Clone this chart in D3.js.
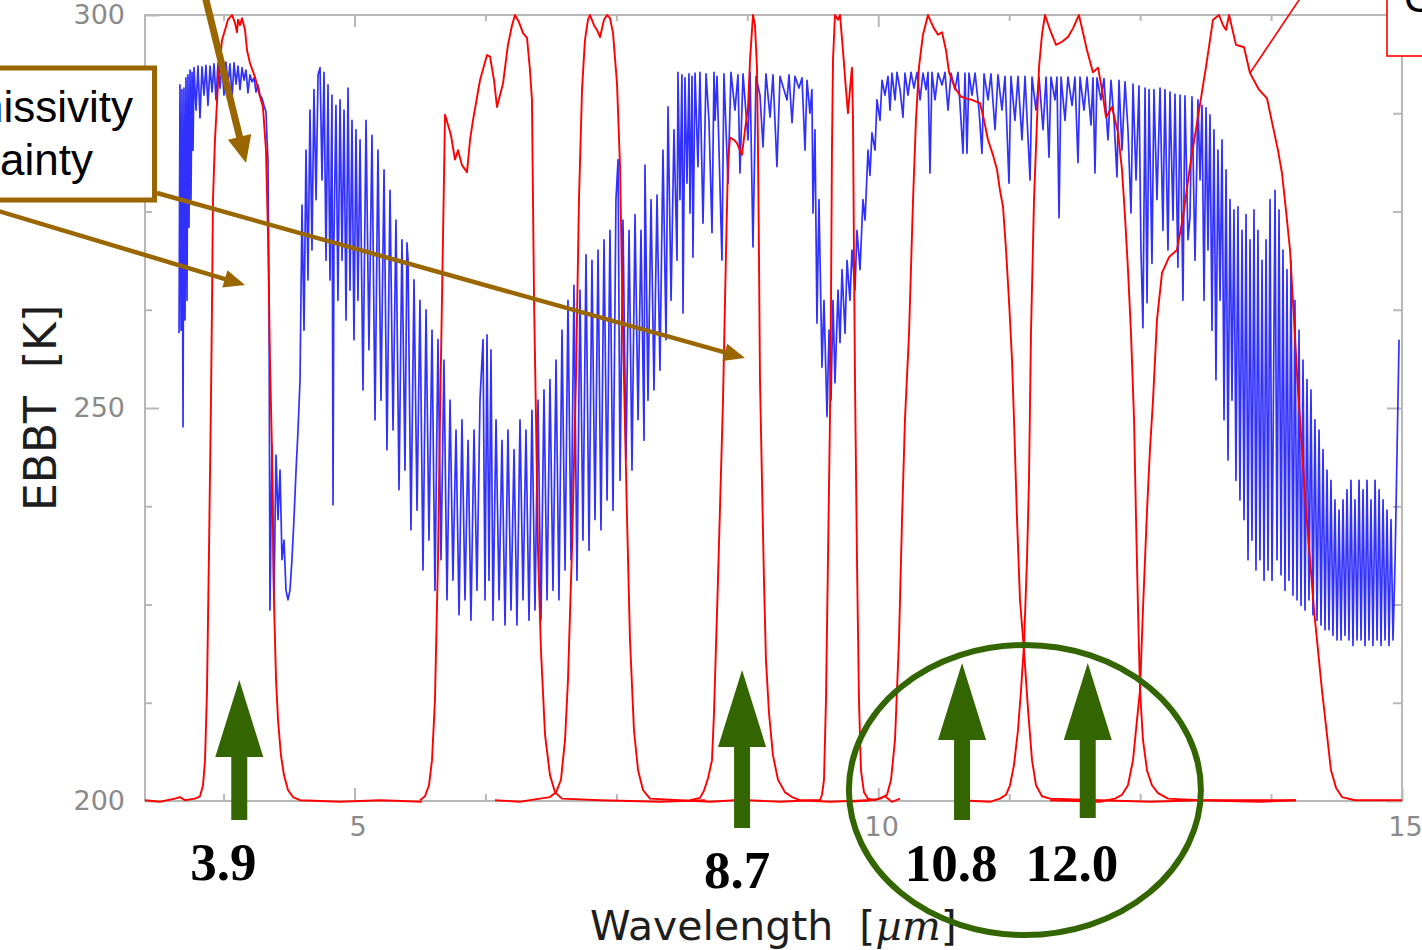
<!DOCTYPE html>
<html>
<head>
<meta charset="utf-8">
<script src="https://cdn.jsdelivr.net/npm/d3@7"></script>
<style>
  html, body { margin: 0; padding: 0; background: #ffffff; overflow: hidden; }
  svg { display: block; }
  .pre { white-space: pre; }
</style>
</head>
<body>
<svg id="chart" width="1422" height="950"></svg>
<script>
// ---- axes ----------------------------------------------------------------
const xDomain = [3, 15];                 // wavelength, µm
const yDomain = [200, 300];              // EBBT, K
const xMajorTicks = [5, 10, 15];
const xMinorTicks = [3.75, 6.25, 7.5, 8.75, 11.25, 12.5, 13.75];
const yMajorTicks = [200, 250, 300];
const yMinorTicks = [212.5, 225, 237.5, 262.5, 275, 287.5];

// ---- simulated equivalent black-body temperature spectrum [µm, K] ---------
const ebbtSpectrum = [
  [3.325,259.5],[3.334,291.1],[3.344,259.9],[3.353,290.5],[3.363,247.6],[3.372,290.7],[3.382,261.2],[3.391,292.0],
  [3.401,263.7],[3.410,292.4],[3.420,273.0],[3.430,293.0],[3.439,276.5],[3.449,292.7],[3.458,282.8],[3.468,293.3],
  [3.487,287.9],[3.506,293.5],[3.525,286.9],[3.544,293.4],[3.563,289.8],[3.582,293.6],[3.601,288.5],[3.621,293.5],
  [3.640,290.2],[3.659,293.8],[3.678,289.2],[3.697,293.9],[3.716,290.7],[3.735,293.6],[3.754,289.8],[3.773,294.0],
  [3.792,291.1],[3.811,293.8],[3.831,289.4],[3.850,293.9],[3.869,291.2],[3.888,293.5],[3.907,290.5],[3.926,293.3],
  [3.945,291.7],[3.964,293.0],[3.983,290.1],[4.002,292.4],[4.021,291.5],[4.041,292.0],[4.060,290.2],[4.079,291.1],
  [4.098,289.8],[4.117,289.4],[4.136,288.5],[4.155,287.7],[4.165,284.1],[4.174,281.6],[4.184,263.7],[4.193,224.3],
  [4.212,245.3],[4.231,225.6],[4.251,244.0],[4.270,235.8],[4.289,242.1],[4.308,230.7],[4.327,233.2],[4.346,226.8],
  [4.365,225.6],[4.384,226.8],[4.403,230.7],[4.422,235.8],[4.442,242.1],[4.461,247.2],[4.480,253.6],
  [4.499,275.8],[4.518,259.9],[4.537,282.8],[4.556,266.3],[4.575,287.9],[4.594,270.1],[4.613,290.5],[4.633,276.5],
  [4.652,292.4],[4.671,293.3],[4.690,279.0],[4.709,292.7],[4.728,268.8],[4.747,291.1],[4.766,266.3],[4.785,289.8],
  [4.795,237.7],[4.804,271.4],[4.823,288.5],[4.842,263.7],[4.862,289.2],[4.881,268.8],[4.900,287.9],[4.919,261.2],
  [4.938,290.7],[4.957,265.0],[4.976,286.6],[4.995,258.7],[5.014,285.4],[5.033,263.7],[5.053,284.1],
  [5.081,252.3],[5.110,286.6],[5.138,257.4],[5.167,284.7],[5.196,248.5],[5.224,282.8],[5.253,251.0],[5.282,280.3],
  [5.310,244.7],[5.339,277.7],[5.368,247.2],[5.396,273.9],[5.425,239.6],[5.453,271.4],[5.482,242.1],[5.501,271.0],
  [5.511,268.8],[5.539,234.5],[5.568,266.3],[5.597,237.0],[5.625,263.7],[5.654,229.4],[5.683,262.5],[5.711,233.2],
  [5.740,259.9],[5.768,226.8],[5.797,258.7],[5.826,230.7],
  [5.854,256.1],[5.883,225.6],[5.912,251.0],[5.940,228.1],[5.969,247.2],[5.998,223.7],[6.026,248.5],[6.055,225.6],
  [6.084,245.9],[6.112,223.0],[6.141,247.2],[6.169,226.8],[6.198,251.0],[6.227,258.7],[6.246,225.6],[6.265,259.3],
  [6.284,228.1],[6.303,257.4],[6.322,223.0],[6.351,248.5],[6.380,225.6],[6.408,245.9],[6.437,222.4],[6.465,247.2],
  [6.494,224.3],[6.523,244.7],[6.551,222.4],[6.580,248.5],[6.609,225.6],[6.637,247.2],[6.666,223.0],[6.694,249.7],
  [6.723,224.3],[6.752,251.0],[6.780,223.0],[6.809,252.3],[6.838,225.6],[6.866,253.6],[6.895,226.8],[6.924,256.1],
  [6.952,225.6],[6.981,259.9],[7.010,229.4],[7.038,263.7],[7.067,230.7],[7.095,265.6],[7.124,228.1],[7.153,265.0],
  [7.181,233.2],[7.210,269.5],[7.239,231.9],[7.267,268.8],[7.296,235.8],[7.325,270.1],[7.353,234.5],[7.382,271.4],
  [7.411,238.3],[7.439,272.6],[7.468,237.0],[7.496,276.5],[7.516,281.6],[7.535,240.8],[7.563,273.9],[7.592,243.4],
  [7.621,272.6],[7.649,242.1],[7.678,274.6],[7.707,248.5],[7.735,272.6],[7.764,245.9],[7.773,280.9],[7.802,251.0],
  [7.831,276.5],[7.859,252.3],[7.888,277.1],[7.916,254.8],[7.945,282.8],[7.974,258.7],[7.993,288.3],[8.022,263.7],
  [8.050,285.4],[8.079,268.8],[8.088,292.7],
  [8.107,276.5],[8.126,292.4],[8.136,262.1],[8.155,292.0],[8.174,278.6],[8.193,292.5],[8.203,274.8],[8.222,292.2],
  [8.231,269.2],[8.251,292.6],[8.279,280.7],[8.298,292.7],[8.327,273.5],[8.356,292.5],[8.384,286.6],[8.413,272.3],
  [8.432,292.7],[8.442,286.6],[8.461,292.2],[8.508,268.8],[8.527,292.5],[8.566,278.6],[8.594,292.7],[8.632,287.9],
  [8.661,292.4],[8.680,279.9],[8.709,292.5],[8.757,284.1],[8.776,292.7],[8.804,270.5],[8.833,292.2],[8.871,289.8],
  [8.900,283.2],[8.928,292.5],[8.967,287.0],[8.995,292.4],[9.033,280.7],[9.062,292.2],[9.100,290.5],[9.129,289.2],
  [9.148,292.4],[9.177,286.3],[9.205,292.2],[9.243,290.7],[9.272,292.0],[9.301,282.8],[9.320,291.7],[9.348,287.5],
  [9.367,290.5],[9.377,274.8],[9.396,285.4],[9.415,260.8],[9.434,276.5],[9.463,255.2],[9.482,263.7],[9.511,248.9],
  [9.530,259.9],[9.549,251.0],[9.568,263.7],[9.587,253.2],[9.616,265.0],[9.635,258.3],[9.654,267.6],[9.683,259.5],
  [9.702,268.8],[9.730,263.7],[9.749,270.1],[9.778,265.0],[9.797,272.6],[9.826,267.6],[9.854,276.5],[9.874,273.9],
  [9.902,282.8],[9.921,279.6],[9.940,285.0],[9.969,282.8],[9.988,289.2],[10.017,286.6],[10.036,291.7],[10.064,289.8],
  [10.093,292.2],
  [10.112,287.9],[10.131,292.6],[10.160,289.2],[10.179,292.7],[10.208,290.5],[10.236,287.0],[10.255,292.6],[10.284,289.8],
  [10.313,292.7],[10.341,290.7],[10.370,292.7],[10.399,289.2],[10.427,292.6],[10.456,290.5],[10.475,292.7],[10.494,279.9],
  [10.513,292.7],[10.542,289.2],[10.571,292.6],[10.609,291.1],[10.637,292.7],[10.666,287.9],[10.695,292.6],[10.733,290.5],
  [10.761,292.7],[10.790,286.6],[10.809,282.4],[10.828,292.6],[10.847,282.4],[10.866,292.6],[10.895,289.8],[10.924,292.6],
  [10.962,287.9],[10.990,282.4],[11.010,292.5],[11.048,289.2],[11.076,292.5],[11.115,285.4],[11.143,292.4],[11.181,287.9],
  [11.210,292.2],[11.248,278.6],[11.267,292.2],[11.305,286.6],[11.334,292.2],[11.372,284.1],[11.401,292.2],[11.449,279.0],
  [11.468,292.1],[11.506,287.9],[11.535,292.1],[11.573,285.4],[11.602,292.1],[11.630,281.9],[11.649,292.1],[11.687,289.2],
  [11.706,292.1],[11.726,274.2],[11.745,292.1],[11.783,286.6],[11.811,292.1],[11.850,288.5],[11.878,292.1],[11.907,281.2],
  [11.926,292.1],[11.964,287.9],[11.993,292.1],[12.031,286.0],[12.050,292.0],[12.069,279.9],[12.088,292.0],[12.126,289.2],
  [12.155,291.9],[12.193,284.1],[12.222,291.7],[12.251,286.6],[12.279,279.4],[12.298,291.7],[12.327,282.8],[12.356,291.5],
  [12.384,285.4],[12.413,274.8],[12.432,291.2],[12.461,279.0],[12.489,291.0],[12.508,270.1],[12.527,260.2],[12.547,290.7],
  [12.566,263.4],[12.585,290.5],[12.613,268.4],[12.632,290.5],[12.661,276.5],[12.690,290.7],[12.718,272.6],[12.737,290.5],
  [12.766,270.1],[12.785,290.2],[12.814,273.9],[12.833,289.9],[12.861,267.9],[12.881,289.8],[12.909,263.7],[12.928,289.7],
  [12.957,271.4],[12.976,274.3],[12.995,289.6],[13.024,268.8],[13.052,289.2],[13.072,279.0],
  [13.091,288.5],[13.110,263.7],[13.129,288.2],[13.148,270.1],[13.167,287.3],[13.186,259.9],[13.205,285.4],[13.224,253.6],
  [13.243,282.8],[13.263,263.7],[13.282,284.1],[13.301,248.5],[13.320,280.3],[13.339,243.4],[13.358,276.5],[13.377,251.0],
  [13.396,275.2],[13.415,240.8],[13.434,275.6],[13.453,238.3],[13.473,272.6],[13.492,235.8],[13.511,274.6],[13.530,230.7],
  [13.549,271.4],[13.568,233.2],[13.587,275.2],[13.606,229.4],[13.625,272.6],[13.644,230.7],[13.664,268.8],[13.683,228.1],
  [13.702,271.4],[13.721,229.4],[13.740,276.5],[13.759,228.1],[13.788,277.7],[13.807,230.7],[13.826,275.2],[13.845,228.8],
  [13.864,270.1],[13.883,226.8],[13.902,267.6],[13.921,228.1],[13.940,268.8],[13.959,226.2],[13.978,263.7],[13.998,225.6],
  [14.017,259.9],[14.036,224.9],[14.055,256.1],[14.074,224.3],[14.093,253.6],[14.112,225.6],[14.131,252.3],[14.150,223.7],
  [14.169,248.5],[14.189,223.0],[14.208,247.2],[14.227,222.4],[14.246,244.7],[14.265,221.8],[14.284,242.1],[14.303,221.8],
  [14.322,240.8],[14.341,221.1],[14.360,238.3],[14.380,220.5],[14.399,237.0],[14.418,220.5],[14.437,238.3],[14.456,221.1],
  [14.475,239.6],[14.494,220.5],[14.513,240.8],[14.532,219.8],[14.551,238.3],[14.571,220.5],[14.590,240.8],[14.609,220.5],
  [14.628,239.6],[14.647,219.8],[14.666,240.8],[14.685,220.5],[14.704,238.3],[14.723,219.8],[14.743,240.8],[14.762,220.5],
  [14.781,239.6],[14.800,219.8],[14.819,238.3],[14.838,220.5],[14.857,237.0],[14.876,219.8],[14.895,235.8],[14.914,220.5],
  [14.934,230.7],[14.953,244.7],[14.972,258.7]
];

// ---- channel spectral response functions, scaled onto the 200–300 K range ----
const srf39 = [
  [3.000,200.1],[3.143,199.9],[3.286,200.3],[3.334,200.5],[3.382,200.1],[3.477,200.3],[3.525,200.6],[3.554,202.0],
  [3.573,205.2],[3.592,214.1],[3.611,231.9],[3.630,251.0],[3.640,263.7],[3.649,276.5],[3.668,284.1],[3.697,291.3],
  [3.735,296.8],[3.764,298.1],[3.792,299.4],[3.831,300.0],[3.859,299.0],[3.878,297.8],[3.888,299.4],[3.907,298.7],
  [3.926,299.6],[3.955,298.1],[3.974,295.5],[4.002,293.9],[4.050,292.1],[4.098,289.6],[4.126,288.3],[4.155,282.8],
  [4.174,272.3],[4.193,256.1],[4.212,244.7],[4.231,225.6],[4.251,215.4],[4.270,210.3],[4.298,205.8],[4.327,203.3],
  [4.365,201.4],[4.413,200.5],[4.480,200.1],[4.862,199.9],[5.243,200.1],[5.644,199.9]
];
const srf62 = [
  [5.625,200.1],[5.673,200.6],[5.711,202.0],[5.740,205.2],[5.768,212.8],[5.797,230.7],[5.816,248.5],[5.835,263.7],
  [5.854,279.0],[5.864,287.3],[5.893,286.0],[5.921,284.7],[5.959,281.6],[5.988,282.8],[6.026,280.9],[6.074,280.0],
  [6.103,284.1],[6.131,286.6],[6.198,291.7],[6.265,294.9],[6.294,294.7],[6.332,291.7],[6.360,288.3],[6.389,289.8],
  [6.418,291.3],[6.465,296.2],[6.504,298.7],[6.532,300.0],[6.570,299.1],[6.609,297.7],[6.647,297.1],[6.675,293.0],
  [6.694,289.2],[6.704,276.5],[6.714,263.7],[6.733,248.5],[6.752,231.9],[6.780,219.2],[6.819,208.4],[6.866,203.3],
  [6.914,201.1],[6.981,200.3],[7.344,200.1],[7.916,199.9],[8.346,200.1]
];
const srf73 = [
  [6.341,200.1],[6.580,199.9],[6.771,200.3],[6.866,200.5],[6.924,201.1],[6.971,202.7],[7.010,207.8],[7.038,215.4],
  [7.076,231.9],[7.114,253.6],[7.143,276.5],[7.172,290.5],[7.200,296.8],[7.229,299.4],[7.248,300.0],[7.286,298.7],
  [7.315,298.1],[7.344,297.2],[7.382,299.4],[7.411,300.0],[7.439,299.6],[7.468,297.7],[7.506,291.3],[7.535,280.7],
  [7.554,266.3],[7.573,253.6],[7.602,235.8],[7.630,220.5],[7.668,209.0],[7.707,203.9],[7.754,201.4],[7.821,200.3],
  [8.107,200.1],[8.394,199.9],[8.632,200.1]
];
const srf87 = [
  [8.203,200.1],[8.298,200.4],[8.336,201.3],[8.375,202.9],[8.413,205.2],[8.432,211.2],[8.470,228.1],[8.518,251.0],
  [8.547,270.1],[8.566,281.6],[8.585,284.4],[8.623,284.1],[8.651,283.7],[8.699,282.2],[8.728,285.4],[8.757,288.3],
  [8.776,294.3],[8.804,300.0],[8.823,298.7],[8.842,293.4],[8.852,282.8],[8.861,270.1],[8.871,253.6],[8.890,240.8],
  [8.909,228.1],[8.928,217.9],[8.957,211.2],[8.995,205.8],[9.043,202.7],[9.110,201.1],[9.177,200.5],[9.253,200.1],
  [9.539,199.9],[9.921,200.1]
];
const srf97 = [
  [8.757,200.1],[9.062,199.9],[9.348,200.1],[9.444,200.1],[9.463,200.8],[9.482,202.7],[9.501,212.8],[9.520,230.7],
  [9.539,248.5],[9.549,263.7],[9.558,282.8],[9.568,294.3],[9.587,300.0],[9.616,299.4],[9.635,300.0],[9.663,295.5],
  [9.692,290.5],[9.711,287.5],[9.730,290.5],[9.749,293.3],[9.759,286.6],[9.768,270.1],[9.778,253.6],[9.797,230.7],
  [9.816,212.8],[9.835,203.9],[9.864,201.1],[9.902,200.3],[9.969,200.1],[10.064,200.6],[10.131,199.9],[10.208,200.3]
];
const srf108 = [
  [9.730,199.9],[9.921,200.1],[10.017,200.3],[10.084,200.8],[10.122,202.7],[10.160,207.8],[10.198,220.5],[10.227,235.8],
  [10.255,248.5],[10.294,259.5],[10.332,276.5],[10.360,286.6],[10.389,293.4],[10.427,297.5],[10.475,300.0],[10.504,299.1],
  [10.532,298.3],[10.571,297.5],[10.609,297.8],[10.647,295.5],[10.676,292.7],[10.733,290.7],[10.790,289.6],[10.838,289.4],
  [10.895,289.2],[10.971,288.8],[11.010,286.6],[11.048,284.1],[11.095,282.2],[11.134,280.3],[11.162,277.7],[11.191,275.6],
  [11.220,270.1],[11.248,263.7],[11.277,256.1],[11.296,248.5],[11.325,235.8],[11.353,225.6],[11.391,219.2],[11.430,211.6],
  [11.468,205.2],[11.506,202.0],[11.563,200.6],[11.640,200.3],[12.117,200.1],[12.594,199.9],[13.072,200.1],[13.988,200.1]
];
const srf120 = [
  [10.780,200.1],[11.067,199.9],[11.162,200.3],[11.220,200.8],[11.258,202.0],[11.296,204.6],[11.334,209.0],[11.363,214.1],
  [11.391,219.8],[11.420,230.7],[11.439,240.8],[11.458,259.5],[11.487,276.5],[11.535,293.4],[11.563,297.5],[11.592,300.0],
  [11.640,298.1],[11.697,296.2],[11.754,296.6],[11.811,297.2],[11.859,298.3],[11.916,300.0],[11.954,297.8],[11.993,295.5],
  [12.050,292.7],[12.098,293.3],[12.136,290.5],[12.174,287.0],[12.232,288.3],[12.289,285.0],[12.327,280.3],[12.356,274.3],
  [12.384,267.6],[12.413,259.5],[12.442,248.5],[12.461,235.8],[12.480,224.3],[12.499,214.1],[12.527,207.8],[12.566,203.9],
  [12.613,202.0],[12.671,201.0],[12.766,200.3],[13.072,200.1],[13.644,199.9],[13.988,200.1]
];
const srf134 = [
  [11.640,200.1],[12.117,199.9],[12.260,200.3],[12.327,200.8],[12.384,202.0],[12.432,205.2],[12.470,210.3],[12.499,214.1],
  [12.527,224.3],[12.566,237.0],[12.594,244.7],[12.623,251.0],[12.661,261.2],[12.709,267.2],[12.776,269.2],[12.852,270.1],
  [12.909,274.3],[12.976,280.7],[13.052,287.0],[13.129,293.4],[13.196,299.4],[13.253,300.0],[13.291,298.7],[13.320,298.1],
  [13.349,300.0],[13.415,296.2],[13.492,295.9],[13.549,292.6],[13.635,290.5],[13.711,289.4],[13.768,285.8],[13.816,282.8],
  [13.854,279.9],[13.892,275.2],[13.931,270.1],[13.969,261.2],[14.007,252.3],[14.045,244.7],[14.084,237.0],[14.122,230.7],
  [14.160,224.3],[14.198,219.2],[14.236,214.1],[14.284,208.4],[14.322,203.9],[14.370,201.7],[14.427,200.5],[14.551,200.1],
  [15.000,200.1]
];
const srfChannels = [srf39, srf62, srf73, srf87, srf97, srf108, srf120, srf134];

// ---- highlighted window channels ----
const channelWavelengths = [3.9, 8.7, 10.8, 12.0];
const channelLabels = ["3.9", "8.7", "10.8", "12.0"];

// ---- layout ----
const plot = { left: 145, right: 1402, top: 15, bottom: 801 };
const frameColor = "#b8b8b8";
const tickLabelColor = "#8a8a8a";
const green = "#336600";
const brown = "#996600";

const svg = d3.select("#chart");

const x = d3.scaleLinear().domain(xDomain).range([plot.left, plot.right]);
const y = d3.scaleLinear().domain(yDomain).range([plot.bottom, plot.top]);

// frame
svg.append("rect")
  .attr("x", plot.left).attr("y", plot.top)
  .attr("width", plot.right - plot.left).attr("height", plot.bottom - plot.top)
  .attr("fill", "none").attr("stroke", frameColor).attr("stroke-width", 2);

function styleAxis(g) {
  g.select(".domain").remove();
  g.selectAll(".tick line").attr("stroke", frameColor).attr("stroke-width", 2);
  g.selectAll(".tick text")
    .attr("fill", tickLabelColor)
    .attr("font-family", "'DejaVu Sans', sans-serif")
    .attr("font-size", 27);
}

// bottom
svg.append("g").attr("transform", `translate(0,${plot.bottom})`)
  .call(d3.axisBottom(x).tickValues(xMajorTicks).tickSize(-13).tickPadding(16).tickFormat(d3.format("d")))
  .call(styleAxis)
  .call(g => g.selectAll(".tick text").attr("dx", 3));
svg.append("g").attr("transform", `translate(0,${plot.bottom})`)
  .call(d3.axisBottom(x).tickValues(xMinorTicks).tickSize(-7).tickFormat(""))
  .call(styleAxis);
// top
svg.append("g").attr("transform", `translate(0,${plot.top})`)
  .call(d3.axisTop(x).tickValues(xMajorTicks).tickSize(-12).tickFormat(""))
  .call(styleAxis);
svg.append("g").attr("transform", `translate(0,${plot.top})`)
  .call(d3.axisTop(x).tickValues(xMinorTicks).tickSize(-6).tickFormat(""))
  .call(styleAxis);
// left
svg.append("g").attr("transform", `translate(${plot.left},0)`)
  .call(d3.axisLeft(y).tickValues(yMajorTicks).tickSize(-14).tickPadding(20).tickFormat(d3.format("d")))
  .call(styleAxis);
svg.append("g").attr("transform", `translate(${plot.left},0)`)
  .call(d3.axisLeft(y).tickValues(yMinorTicks).tickSize(-7).tickFormat(""))
  .call(styleAxis);
// right
svg.append("g").attr("transform", `translate(${plot.right - 1},0)`)
  .call(d3.axisRight(y).tickValues(yMajorTicks).tickSize(-14).tickFormat(""))
  .call(styleAxis);
svg.append("g").attr("transform", `translate(${plot.right - 1},0)`)
  .call(d3.axisRight(y).tickValues(yMinorTicks).tickSize(-8).tickFormat(""))
  .call(styleAxis);

// axis titles
svg.append("text")
  .attr("class", "pre")
  .attr("x", 590).attr("y", 940)
  .attr("font-family", "'DejaVu Sans', sans-serif").attr("font-size", 41)
  .attr("fill", "#1e1e1e")
  .call(t => {
    t.append("tspan").text("Wavelength  [");
    t.append("tspan").attr("font-family", "'DejaVu Serif', serif").attr("font-style", "italic").text("µm");
    t.append("tspan").text("]");
  });

svg.append("text")
  .attr("class", "pre")
  .attr("transform", "translate(56,408) rotate(-90)")
  .attr("text-anchor", "middle")
  .attr("font-family", "'DejaVu Sans', sans-serif").attr("font-size", 44)
  .attr("fill", "#1e1e1e")
  .text("EBBT  [K]");

// spectrum and response curves
const line = d3.line().x(d => x(d[0])).y(d => y(d[1]));

svg.append("path")
  .datum(ebbtSpectrum)
  .attr("d", line)
  .attr("fill", "none")
  .attr("stroke", "#0c0cff")
  .attr("stroke-opacity", 0.85)
  .attr("stroke-width", 1.7)
  .attr("stroke-linejoin", "round");

svg.append("g").selectAll("path")
  .data(srfChannels)
  .join("path")
  .attr("d", line)
  .attr("fill", "none")
  .attr("stroke", "#ff0000")
  .attr("stroke-width", 1.9)
  .attr("stroke-linejoin", "round");

// ---- annotations ----
const ann = svg.append("g");

function thickArrow(g, x1, y1, x2, y2, width, headLen, headHalf, color) {
  const dx = x2 - x1, dy = y2 - y1, L = Math.hypot(dx, dy);
  const ux = dx / L, uy = dy / L, px = -uy, py = ux;
  const bx = x2 - ux * headLen, by = y2 - uy * headLen;
  g.append("line")
    .attr("x1", x1).attr("y1", y1).attr("x2", bx + ux * 2).attr("y2", by + uy * 2)
    .attr("stroke", color).attr("stroke-width", width);
  g.append("path")
    .attr("d", `M${x2},${y2}L${bx + px * headHalf},${by + py * headHalf}L${bx - px * headHalf},${by - py * headHalf}Z`)
    .attr("fill", color);
}

// emissivity uncertainty call-out
ann.append("rect")
  .attr("x", -20).attr("y", 68).attr("width", 174.5).attr("height", 132)
  .attr("fill", "#ffffff").attr("stroke", brown).attr("stroke-width", 5);
ann.append("text")
  .attr("x", 133).attr("y", 122).attr("text-anchor", "end")
  .attr("font-family", "'Liberation Sans', Arial, sans-serif").attr("font-size", 44)
  .attr("fill", "#000").text("Emissivity");
ann.append("text")
  .attr("x", 93).attr("y", 175).attr("text-anchor", "end")
  .attr("font-family", "'Liberation Sans', Arial, sans-serif").attr("font-size", 44)
  .attr("fill", "#000").text("uncertainty");

thickArrow(ann, 205, -4, 246, 163, 7, 27, 12, brown);
thickArrow(ann, -5, 210, 245, 285, 4.5, 21, 9, brown);
thickArrow(ann, 157, 193, 745, 358, 4.5, 21, 9, brown);

// CO2 channel call-out (top right)
ann.append("line")
  .attr("x1", 1250).attr("y1", 73).attr("x2", 1301).attr("y2", -3)
  .attr("stroke", "#ff0000").attr("stroke-width", 1.6);
ann.append("rect")
  .attr("x", 1387).attr("y", -10).attr("width", 60).attr("height", 66)
  .attr("fill", "#ffffff").attr("stroke", "#ff0000").attr("stroke-width", 1.6);
ann.append("text")
  .attr("x", 1404).attr("y", 12)
  .attr("font-family", "'Liberation Sans', Arial, sans-serif").attr("font-size", 40)
  .attr("fill", "#000").text("CO₂");

// window channel arrows
const arrowTipY = [680, 670, 663, 663];
const arrowBottomY = [820, 828, 820, 818];
const labelDx = [-16, -5, -11, -16];
const labelBaseY = [880, 888, 881, 881];

channelWavelengths.forEach((w, i) => {
  const cx = x(w), tip = arrowTipY[i], base = tip + 77, bot = arrowBottomY[i];
  ann.append("path")
    .attr("d", `M${cx - 8},${bot}L${cx - 8},${base}L${cx - 24},${base}L${cx},${tip}L${cx + 24},${base}L${cx + 8},${base}L${cx + 8},${bot}Z`)
    .attr("fill", green);
  ann.append("text")
    .attr("x", cx + labelDx[i]).attr("y", labelBaseY[i])
    .attr("text-anchor", "middle")
    .attr("font-family", "'Liberation Serif', 'Times New Roman', serif")
    .attr("font-weight", "bold").attr("font-size", 53)
    .attr("fill", "#000").text(channelLabels[i]);
});

// split-window ellipse
ann.append("ellipse")
  .attr("cx", x(11.4)).attr("cy", y(201.4))
  .attr("rx", 176).attr("ry", 145)
  .attr("fill", "none").attr("stroke", green).attr("stroke-width", 6);
</script>
</body>
</html>
